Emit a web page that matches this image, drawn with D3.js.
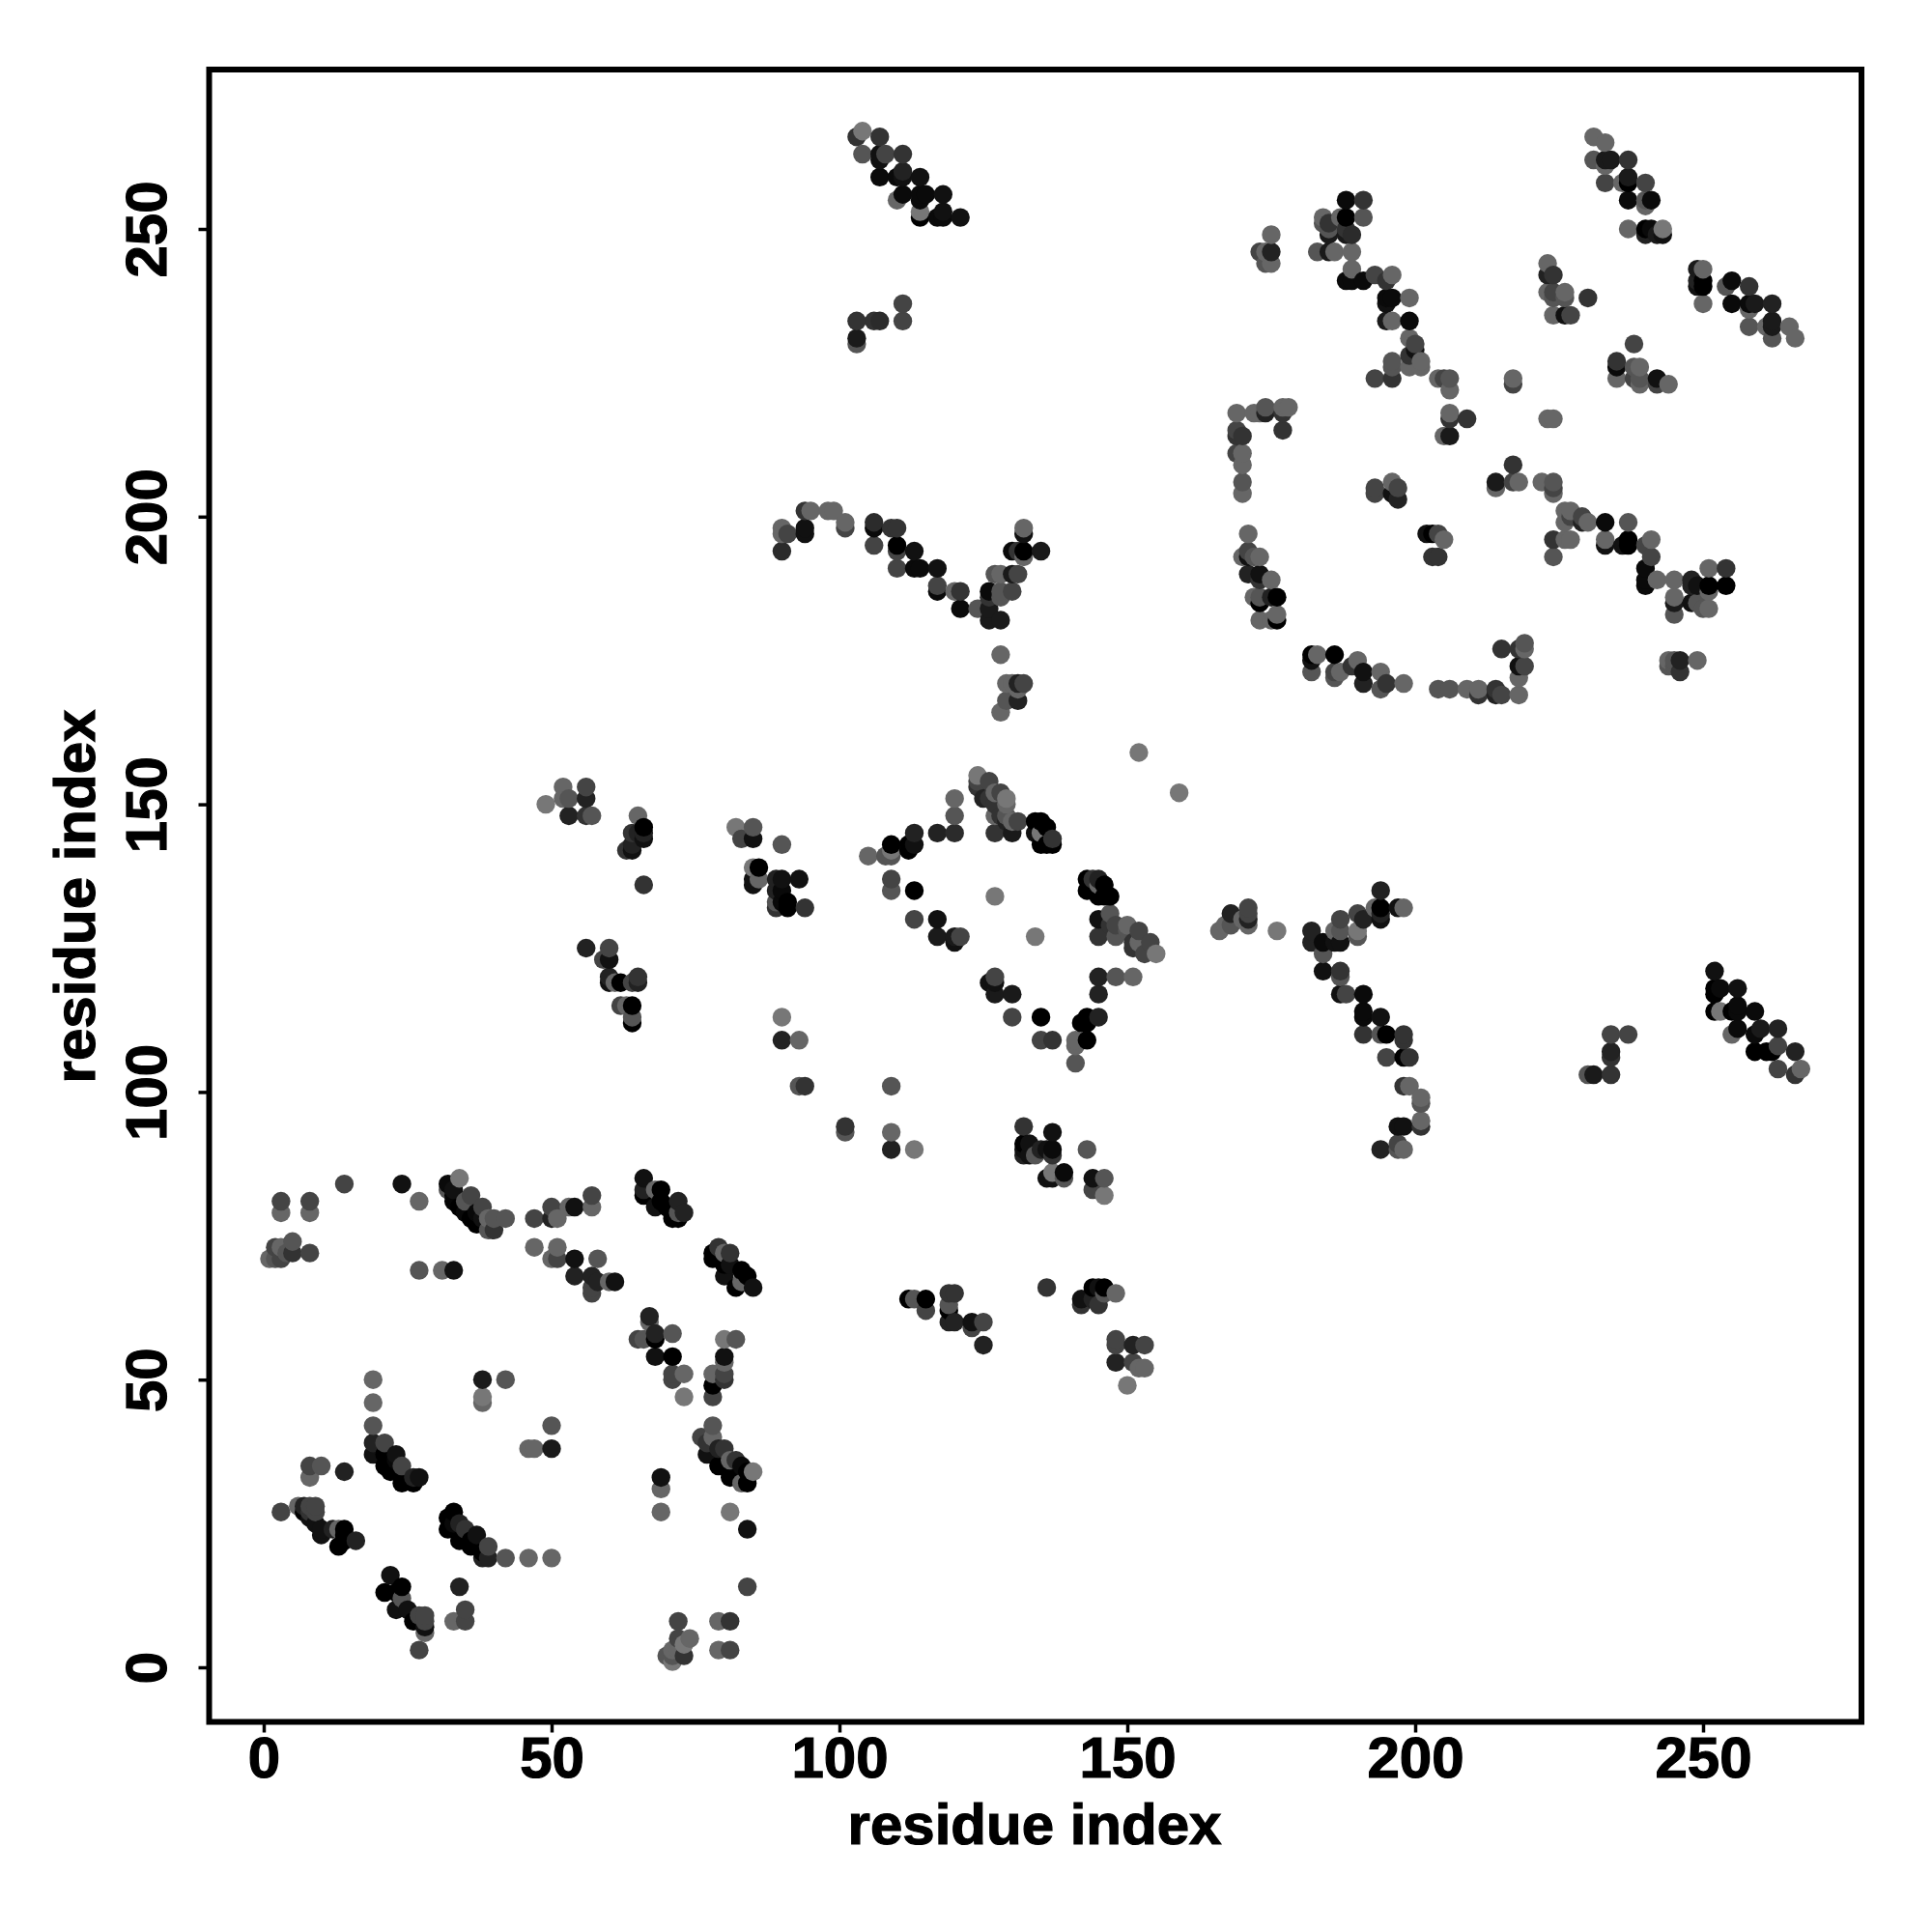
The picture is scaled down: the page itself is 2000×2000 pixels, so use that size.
<!DOCTYPE html>
<html><head><meta charset="utf-8"><style>html,body{margin:0;background:#fff}svg{display:block}</style>
<script src="https://cdnjs.cloudflare.com/ajax/libs/d3/7.8.5/d3.min.js"></script></head><body><script>
// each row: residue i, residue j, score (0 = black ... 7 = lightest)
const bottomLeftA=[[14,84,4],[24,84,1],[27,81,6],[3,79,6],[3,81,4],[8,79,6],[8,81,4],[1,71,6],[2,71,5],[3,71,4],[2,73,4],[3,73,6],[4,72,5],[5,72,3],[5,74,5],[8,72,4],[27,69,5],[31,69,6],[33,69,1],
[32,84,0.6],[32,83,5],[33,82,0.3],[33,81,0.3],[33,83,1],[34,85,7],[34,80,0],[35,79,0.5],[35,81,5],[36,82,4],[36,78,0],[37,77,0],[37,79,0.5],[38,80,4],[38,78,1],[39,78,6],[39,76,5],[40,76,3],[40,78,5],[42,78,5]];
const bottomLeftB=[[47,78,4],[50,80,4],[50,78,2],[51,78,6],[53,80,6],[54,80,1],[57,82,4],[57,80,6],[47,73,6],[51,73,6],[50,71,6],[51,71,4],[54,71,1],[58,71,5],[54,68,2],[57,68,2],[58,67,2],[57,66,4],[57,65,4],[60,67,6],[61,67,1],
[66,85,1],[66,83,2],[66,82,0],[68,83,6],[69,83,0],[68,80,1],[69,81,0],[70,80,0],[72,81,2],[72,78,0],[73,79,2],[72,79,5],[71,78,0],
[79,73,3],[78,72,0],[78,71,0],[80,72,6],[81,72,3],[80,70,0],[80,68,1],[83,69,0],[81,70,1],[82,66,0],[83,67,6],[85,66,1],[84,68,0]];
const bottomLeftC=[[67,61,2],[67,60,6],[65,57,4],[66,57,5],[68,58,2],[68,57,0],[71,58,5],[68,54,1],[71,54,0],[71,51,4],[71,50,4],[73,51,6],[73,47,7],
[80,54,1],[80,53,6],[82,57,5],[80,57,7],[78,51,6],[78,49,0],[80,51,4],[80,50,3],[78,47,4],
[19,50,6],[19,46,6],[19,42,5],[38,50,1.5],[42,50,5],[38,47,7],[38,46,6],[50,42,5],[46,38,6],[47,38,6],[50,38,1.5],
[19,39,2],[19,37,1],[21,39,4],[21,37,0],[21,35,0],[23,37,1],[22,34,0],[24,35,4],[24,32,0],[26,32,0],[26,33,2],[27,33,1],[23,36,0.5],
[8,35,4],[10,35,5],[8,33,6],[14,34,2]];
const bottomLeftD=[[3,27,4],[6,28,6],[7,28,2],[7,27,0],[8,27,3],[8,28,4],[9,27,4],[9,28,4],[8,26,1],[9,25,1],[10,24,1],[10,23,1],[12,24,2],[13,24,6],[14,24,0],[14,23,0],[13,21,0],[14,22,0],[16,22,2],
[33,27,0],[32,26,0],[32,24,0],[33,25,0.5],[34,25,2],[35,24,3],[36,22,0],[37,23,1],[34,22,0],[36,21,0],[38,20,0],[39,21,4],[38,19,2],[39,19,2],[42,19,5],[46,19,6],[50,19,6],
[22,16,1],[21,13,0],[24,14,0],[24,12,5],[23,13,0],[23,10,1],[25,10,1],[26,8,0],[27,9,4],[28,9,4],[28,8,4],[28,6,6],[28,7,1],[27,3,4],[34,14,2],[35,10,4],[35,8,4],[33,8,6],
[84,14,4],[69,33,1],[69,31,6],[69,27,6],[81,27,7],[84,24,1],
[78,42,5],[78,40,6],[76,40,4],[77,39,3],[77,37,1],[79,38,2],[80,38,3],[79,35,0],[81,36,6],[82,36,3],[81,33,0],[83,35,0.5],[84,34,0],[84,32,0],[85,34,7],[83,32,6],
[72,8,4],[79,8,6],[81,8,3],[79,3,6],[81,3,4],[72,5,4],[74,5,6],[71,3,6],[73,2,3],[73,4,7],[71,1,7],[70,2,5],[71,2,5],[72,3,6]];
const middleLowA=[[93,101,5],[94,101,3],[109,101,5],[101,94,3],[101,93,5],[109,93,6],[109,90,2],[113,90,7],[141,105,5],
[132,94,3],[137,93,1],[143,90,5],[132,91,0],[133,91,1],[132,90,1],[132,89,2],[134,89,5],[133,89,1],[135,90,2],[136,90,1],[137,90,0.6],[137,89,3],[136,85,1],[137,86,7],[137,85,1],[139,85,5],[139,86,0.6],[144,85,1],[146,85,5],[144,83,4],[146,82,7],
[112,64,0],[113,64,5],[115,64,0],[115,62,4],[119,65,3],[120,65,3],[119,63,5],[119,62,0],[119,60,2],[120,60,2],[123,60,1],[123,59,4],[125,60,4],[125,56,2],[136,66,3],
[142,64,1],[142,63,3],[144,66,0],[145,66,1],[146,66,0],[145,63,3],[144,64,2],[146,65,5],[148,65,6],
[148,57,4],[148,56,4],[148,53,2],[151,56,2],[153,56,4],[151,53,4],[152,52,6],[153,52,6],[150,49,7]];
const middleUpA=[[49,150,7],[52,153,6],[52,151,6],[53,151,5],[53,148,2],[56,153,4],[56,151,2],[56,148,3],[57,148,5],
[65,148,6],[66,146,0],[66,145,2],[66,144,1],[64,145,3],[65,145,2],[64,143,2],[63,142,3],[64,142,1],[66,136,3],
[56,125,2],[60,125,4],[59,123,4],[60,123,1],[60,120,2],[60,119,1],[61,119,6],[62,119,0],[64,119,4],[65,120,3],[65,119,2],[62,115,4],[63,115,6],[64,115,0],[64,113,5],[64,112,0],
[82,146,7],[85,146,5],[83,144,4],[85,144,1],[90,143,5],[85,139,7],[86,139,0],[85,136,1],[85,137,1],[86,137,6],[89,137,2],[90,137,1],[93,137,1],[89,135,2],[89,133,5],[89,132,3],[91,132,0],[90,133,0.5],[90,135,0.5],[91,133,0],[94,132,3],
[90,113,7],[90,109,2],[93,109,6]];
const diamond=[[105,141,6],[108,141,5],[109,141,5],[109,142,7],[109,143,0],[112,143,0],[112,142,0],[113,143,1],[113,145,2],[117,145,2],[120,145,2.5],[120,148,5],[120,151,6],
[109,137,4],[109,135,5],[113,135,0],[113,130,4],[117,130,1],[117,127,1.5],[120,127,1.5],[120,126,1],[121,127,4],[127,134,7],[134,127,7],
[124,155,7],[124,154,4],[124,153,3],[126,154,4],[125,151,2],[126,151,3],[127,152,6],[128,152,4],[127,150,3],[129,151,7],[129,150,6],[127,148,6],[128,148,3],[129,148,5],[130,147,6],[131,147,4],[127,145,3],[130,145,1.5],[129,147,2],
[134,147,0],[134,145,1],[136,146,0],[135,143,0],[136,143,0],[137,143,0],[137,144,3],[135,145,7],[135,147,0],
[143,137,0],[144,137,3],[143,135,0],[145,137,2],[145,136,6],[146,136,0],[145,134,0],[146,134,0],[147,134,0],
[145,130,1],[147,131,5],[145,127,3],[148,127,5],[148,129,4],[147,129,3],[150,128,5],[150,129,6],[152,128,4],[151,125,3],[151,126,3],[152,126,6],[154,126,4],[153,124,4],[155,124,7],
[145,120,2],[148,120,5],[151,120,6],[145,117,2],[127,120,4],[126,119,1],[127,119,1],[127,117,1.5],[130,117,1.5],[130,113,4],[135,113,0],
[145,113,2],[143,113,0],[142,112,0],[143,112,0],[141,109,6],[143,109,0],[135,109,4],[137,109,3],[141,108,6],[152,159,7],[159,152,7]];
const middleRight=[[166,128,6],[168,131,2],[168,129,5],[167,129,6],[171,132,4],[171,131,4],[171,130,2],[171,129,6],[170,130,6],[176,128,7],
[182,128,2],[182,126,2],[184,126,0.6],[184,124,5],[187,130,4],[186,128,6],[187,128,5],[187,126,1],[186,126,1],[190,131,4],[190,128,7],[190,127,5],[191,130,2],[193,132,6],[194,135,2],[194,132,0],[194,130,1],[194,131,2],[197,132,1],[198,132,6],
[184,121,1],[187,121,3],[187,120,5],[187,117,1],[188,117,4],[191,117,0.6],[191,114,0.6],[191,113,0.6],[194,113,1],[191,110,3],[194,110,5],[195,110,0],[198,110,3],[198,109,3],[195,106,4],[198,106,0],[199,106,3],
[198,101,3],[199,101,6],[201,99,6],[201,98,5],[201,95,6],[201,94,3],[197,94,1],[198,94,1],[194,90,2],[197,91,4],[197,90,5],[198,90,6],
[234,110,4],[237,110,4],[234,107,2],[234,106,3],[230,103,5],[231,103,1.5],[234,103,3],
[252,121,1],[252,118,0],[252,117,0],[253,118,0.6],[256,118,1],[252,114,0],[253,114,7],[255,114,0],[256,115,0.6],[256,114,0.6],[259,114,0.6],[255,110,6],[256,111,0.6],[259,110,0.6],[260,111,1.5],[263,111,2],[259,107,0],[261,107,0],[262,107,0],[263,108,4],[263,104,4],[266,107,2],[266,103,3],[267,104,6]];
const upperMiddle=[[103,266,3],[104,267,7],[104,263,5],[107,266,3],[107,263,1],[107,262,1],[108,263,4],[111,263,3],[107,259,0.6],[110,259,0.6],[111,260,2],[111,259,1],[114,259,1],[110,255,6],[111,256,0.6],[114,256,0.6],[115,256,0.6],[114,255,0.6],[118,256,1],[114,253,7],[114,252,0],[117,252,0.6],[118,252,0.6],[118,253,1],[121,252,1],
[111,237,4],[103,234,3],[106,234,3],[107,234,2.5],[111,234,4],[103,231,1.5],[103,230,5],
[90,198,6],[90,197,6],[91,197,4],[90,194,2.5],[94,201,3],[95,201,6],[94,198,1],[94,197,1],[98,201,6],[99,201,6],[101,199,6],[101,198,4],
[106,199,2.5],[106,198,0.6],[106,195,4],[109,198,3],[110,198,3],[110,195,0],[110,194,4],[113,194,1],[110,191,4],[113,191,0.6],[114,191,0.6],[117,191,1],[117,188,4],[117,187,0.6],[120,187,6],[121,187,3],[121,184,0.6],[124,184,5],[126,187,0.6],[126,184,1.5],[126,186,3],[126,182,1.5],[128,182,1.5],[127,190,5],[128,190,6],[128,187,5],[128,186,5],[130,187,4],[130,190,1.5],[131,190,4],[130,194,0.6],[131,194,3],[132,193,6],[132,194,0],[132,197,1],[132,198,6],[135,194,1.5],
[128,176,6],[129,171,6],[130,171,6],[131,171,2],[132,171,4],[131,170,6],[129,168,5],[131,168,2],[128,166,6]];
const upperRightA=[[169,218,6],[172,218,6],[173,218,6],[174,219,5],[174,218,2],[177,219,6],[178,219,6],[177,218,3],[177,215,3],[169,215,4],[169,214,3],[170,214,3],[169,211,4],[170,211,6],[170,209,6],[170,206,5],[170,204,6],
[171,197,6],[171,194,4],[170,193,6],[171,193,1],[173,193,6],[172,193,5],[171,190,2],[173,190,1],[173,189,3],[175,189,6],[172,186,6],[173,186,5],[173,185,0],[175,186,2],[176,186,0],[173,182,6],[176,183,6],[176,182,0],[175,182,6],
[182,176,0],[183,176,6],[182,175,1],[182,173,5],[186,176,0],[186,173,4],[187,173,6],[186,172,5],[190,175,6],[189,174,3],[191,173,1],[191,171,2],[194,173,6],[194,170,5],[195,171,3],[198,171,6],
[204,170,5],[206,170,5],[209,170,6],[211,170,6],[211,169,3],[214,170,3],[214,169,2],[215,169,4],[218,169,6],[218,172,6],[215,177,3],[218,177,3],[219,178,5],[219,177,6],[218,174,1],[219,174,4]];
const upperRightB=[[193,205,4],[193,204,4],[196,206,6],[197,205,4],[196,204,1],[197,203,2],[206,218,6],[206,217,3],[209,217,3],[205,214,6],[206,214,1.5],
[217,209,3],[214,206,1.5],[214,205,6],[217,206,4],[218,206,6],[222,206,6],[224,206,5],[224,205,4],[224,204,6],[223,217,6],[224,217,6],
[226,201,6],[227,201,6],[226,199,6],[227,200,4],[229,200,4],[229,199,2],[230,199,6],[233,199,0.6],[237,199,5],[224,196,3],[226,196,6],[227,196,6],[224,193,5],
[233,196,6],[233,195,1],[236,195,1],[237,196,0],[237,195,0],[240,195,4],[241,196,6],[241,193,4],[240,191,0.6],[240,189,0.6],[240,188,0.6],[242,189,6],[245,189,6],[248,189,2],[248,188,2],[249,188,1],[251,191,6],[251,188,0],[254,191,3],[254,188,0],[251,187,6],[245,186,6],[245,185,1.5],[245,183,5],[248,185,1],[249,185,5],[251,184,6],[250,184,5],
[202,197,1],[203,197,0],[204,197,4],[205,196,6],[203,193,3],[204,193,3],[244,175,6],[245,175,5],[246,175,2],[246,173,3],[244,174,5],[245,174,5],[249,175,6]];
const upperRightC=[[175,249,6],[173,246,4],[174,246,6],[175,246,2],[174,244,5],[175,244,6],[188,255,0.6],[191,255,3],[188,252,0],[191,252,5],[184,252,6],[184,251,5],[185,251,3],[187,252,6],[185,249,1.5],[188,250,3],[188,249,1.5],[189,249,2.5],[185,250,5],[183,246,5],[185,246,1.5],[186,246,6],[189,246,6],[189,243,6],[188,241,0.6],[189,241,0.6],[191,241,0.6],[193,242,4],[196,242,6],[195,241,3],
[195,238,0.6],[196,238,0.6],[195,237,1],[199,238,6],[195,234,1.5],[196,234,6],[199,234,0.6],[199,231,6],[200,230,4],[200,229,1],[199,228,3],[199,226,6],[201,227,6],[201,226,6],[196,227,5],[196,226,5],[193,224,4],[196,224,3],[204,224,6],[205,224,4],[206,224,5],[206,222,6],[217,224,6],[217,223,4],
[231,266,6],[233,265,6],[231,262,5],[233,262,1.5],[234,262,1.5],[233,261,6],[237,262,3],[233,258,4],[236,258,6],[237,259,1.5],[237,258,0],[240,258,4],[237,255,0.6],[240,255,5],[241,255,0.6],[240,254,6],
[237,250,6],[240,250,0],[241,250,0.6],[240,249,2],[242,249,1.5],[243,250,7],[243,249,1],
[223,244,6],[223,242,2],[224,242,3],[223,239,6],[224,239,4],[224,238,5],[226,239,6],[226,238,5],[224,235,6],[226,235,1],[227,235,4],[230,238,3],
[249,243,1.5],[250,243,6],[249,241,2],[250,241,0],[250,240,0],[249,240,1],[250,237,6],[254,240,5],[255,241,0.6],[258,240,3],[255,237,0.6],[258,237,0.6],[259,237,1.5],[258,236,6],[262,237,2],[258,233,5],[261,233,6],[262,234,1.5],[262,233,1.5],[262,231,5],[265,233,6],[266,231,6],
[238,230,4],[235,227,3],[235,226,0.6],[235,224,6],[238,226,5],[239,226,6],[238,224,4],[239,224,5],[239,223,6],[242,224,1],[242,223,4],[244,223,6]];
const xTicks=[0,50,100,150,200,250], yTicks=[0,50,100,150,200,250];
const axisTitle="residue index";

const contacts=[...bottomLeftA,...bottomLeftB,...bottomLeftC,...bottomLeftD,...middleLowA,...middleUpA,...diamond,...middleRight,...upperMiddle,...upperRightA,...upperRightB,...upperRightC]
  .map(([i,j,s])=>({i,j,s})).sort((a,b)=>a.i-b.i||a.j-b.j);

const W=2000,H=2000,L=216.5,R=1927,T=72,B=1782.5;
const x=d3.scaleLinear().domain([0,250]).range([273,1763]);
const y=d3.scaleLinear().domain([0,250]).range([1726,237]);
const shade=d3.scaleLinear().domain([0,7]).range(["#000000","#777777"]);
const font='"Liberation Sans",Arial,sans-serif';
const svg=d3.select("body").append("svg").attr("width",W).attr("height",H);
svg.append("rect").attr("width",W).attr("height",H).attr("fill","#fff");
svg.append("g").selectAll("circle").data(contacts).join("circle")
  .attr("cx",d=>x(d.i)).attr("cy",d=>y(d.j)).attr("r",9.7).attr("fill",d=>shade(d.s));
svg.append("rect").attr("x",L).attr("y",T).attr("width",R-L).attr("height",B-T)
  .attr("fill","none").attr("stroke","#000").attr("stroke-width",6);
const gx=svg.append("g").attr("transform",`translate(0,${B})`).call(d3.axisBottom(x).tickValues(xTicks).tickSize(11).tickPadding(6));
const gy=svg.append("g").attr("transform",`translate(${L},0)`).call(d3.axisLeft(y).tickValues(yTicks).tickSize(11));
const heavy=sel=>sel.style("font",`bold 60px ${font}`).attr("fill","#000").attr("stroke","#000").attr("stroke-width",1.2);
[gx,gy].forEach(g=>{g.select(".domain").remove();
  g.selectAll(".tick line").attr("stroke","#000").attr("stroke-width",3.5);
  g.selectAll("text").call(heavy);});
gx.selectAll("text").attr("dy",null).attr("transform",null)
  .attr("text-anchor","middle").attr("y",1840-B);
gy.selectAll("text").attr("x",null).attr("dy",null)
  .attr("text-anchor","middle").attr("transform",`translate(${172-L},0) rotate(-90)`).attr("x",0).attr("y",0);
svg.append("text").attr("x",1071).attr("y",1909).attr("text-anchor","middle").call(heavy).text(axisTitle);
svg.append("text").attr("transform","translate(98,928) rotate(-90)").attr("text-anchor","middle").call(heavy).text(axisTitle);
</script></body></html>
